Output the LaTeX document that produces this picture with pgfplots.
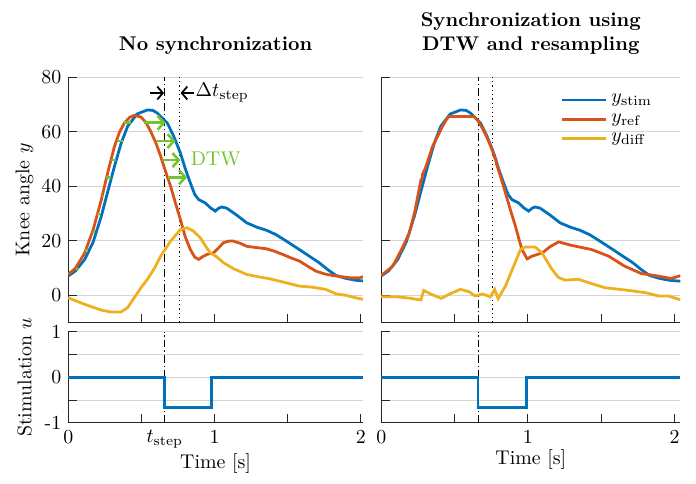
\documentclass[border=0pt]{standalone}
\usepackage{pgfplots}
\pgfplotsset{compat=1.18}
\usetikzlibrary{arrows.meta}

\definecolor{mblue}{rgb}{0,0.447,0.741}
\definecolor{morange}{rgb}{0.85,0.325,0.098}
\definecolor{myellow}{rgb}{0.929,0.694,0.125}
\definecolor{dtwgreen}{rgb}{0.45,0.77,0.18}

\pgfplotsset{
  base/.style={
    scale only axis,
    axis x line*=bottom, axis y line*=left,
    tick align=inside, major tick length=4.5pt,
    ymajorgrids, grid style={black!17, line width=0.5pt},
    axis line style={black!85, line width=0.5pt},
    tick style={black!85, line width=0.5pt},
    xmin=0, no markers,
    every axis plot/.append style={line width=1.4pt},
    xtick={0,0.5,1,1.5,2},
    ylabel style={at={(axis description cs:0,0.5)}, anchor=center, yshift=22pt},
    xlabel style={yshift=4pt},
    title style={at={(0.5,1)}, anchor=south, yshift=2pt, font=\bfseries, align=center},
  },
  top/.style={base, height=123.5pt, ymin=-10, ymax=80, ytick={0,20,40,60,80}, xticklabels={}},
  bot/.style={base, height=46pt, ymin=-1, ymax=1, ytick={-1,-0.5,0,0.5,1},
    xticklabels={0,,1,,2}, xlabel={Time [s]}},
  dashdot/.style={black, line width=0.5pt, dash pattern=on 4pt off 1.5pt on 0.6pt off 1.5pt, forget plot},
  dotline/.style={black, line width=0.5pt, dash pattern=on 0.6pt off 1.6pt, forget plot},
  dtw/.style={dtwgreen, line width=1.3pt, forget plot},
  dtwarrow/.style={dtw, -{Straight Barb[length=3.2pt,width=7pt]}},
  blackarrow/.style={black, line width=0.9pt, forget plot, -{Straight Barb[length=2.8pt,width=6.5pt]}},
}

% y_stim (same in both panels)
\pgfplotstableread{
t y
0 7.1
0.05 9.0
0.113 13.2
0.17 19.5
0.226 29
0.27 38
0.316 47.3
0.36 55.5
0.406 62
0.47 66.5
0.542 68
0.58 67.8
0.61 66.8
0.677 63.2
0.72 58.5
0.767 52.2
0.80 46.5
0.835 41.2
0.865 37
0.892 35.1
0.937 33.9
0.97 32.2
1.005 30.9
1.03 32
1.05 32.4
1.083 32
1.15 29.5
1.22 26.6
1.29 25
1.354 23.9
1.42 22.3
1.5 19.6
1.58 16.8
1.65 14.3
1.715 12
1.77 9.6
1.83 7.3
1.9 6.2
1.97 5.5
2.04 5.2
}\stim

\pgfplotstableread{
t y
0 7.7
0.05 10
0.113 15.6
0.17 24
0.226 35
0.27 45
0.316 54.6
0.35 59.8
0.384 63.2
0.42 65.3
0.451 66
0.497 65.4
0.53 63.5
0.564 60.1
0.6 55.8
0.632 51
0.665 45.5
0.7 40
0.735 33.5
0.767 27.8
0.8 21.5
0.835 16.8
0.865 14
0.892 13.2
0.92 14.2
0.948 15
0.993 15.6
1.03 17.5
1.06 19.3
1.1 19.9
1.129 19.9
1.18 19
1.22 18
1.29 17.5
1.354 17.1
1.41 16.2
1.467 15
1.52 13.8
1.58 12.6
1.64 10.6
1.693 8.9
1.75 7.9
1.806 7.3
1.86 6.9
1.919 6.5
1.99 6.4
2.04 7.2
}\refL

\pgfplotstableread{
t y
0 -0.9
0.113 -3.3
0.226 -5.4
0.293 -6.1
0.361 -6.1
0.406 -4.5
0.451 -0.9
0.5 3
0.542 5.9
0.59 10
0.632 14.4
0.7 19.9
0.767 24.1
0.813 24.8
0.858 23.5
0.903 21.1
0.94 18
0.971 15.6
1.016 14.1
1.061 12
1.129 9.8
1.219 7.7
1.31 6.7
1.377 6.1
1.467 4.9
1.58 3.4
1.67 3
1.76 2.2
1.83 0.6
1.9 0
1.99 -1.2
2.04 -1.6
}\diffL

\pgfplotstableread{
t y
0 7.3
0.079 10.7
0.14 17
0.192 22.9
0.23 31
0.271 42.4
0.278 42.6
0.282 44.5
0.30 46.5
0.35 54.6
0.418 62
0.445 64.5
0.463 65.6
0.633 65.6
0.66 64
0.69 61.3
0.725 57.5
0.756 53.4
0.774 50.4
0.781 50.2
0.785 48.3
0.79 47.6
0.82 42.5
0.847 37.6
0.88 31.5
0.915 25.4
0.94 20.5
0.96 16.8
0.995 13.4
1.03 14.4
1.1 15.6
1.15 17.8
1.21 19.6
1.3 18.3
1.435 16.8
1.55 14.4
1.66 10.7
1.774 8
1.887 7.1
1.977 6.2
2.04 7.2
}\refR

\pgfplotstableread{
t y
0 -0.5
0.1 -0.5
0.19 -1
0.27 -1.7
0.29 1.8
0.34 0.4
0.41 -1.1
0.47 0.6
0.54 2.2
0.6 1.3
0.64 -0.2
0.69 0.5
0.745 -0.5
0.774 2.2
0.797 -1.2
0.847 3.4
0.903 10.7
0.95 16.8
0.983 17.7
1.05 17.7
1.096 15.6
1.165 9.5
1.21 6.5
1.255 5.6
1.345 5.9
1.435 4.3
1.527 2.8
1.66 2
1.8 1
1.89 -0.2
1.957 -0.2
2.04 -1.6
}\diffR

\begin{document}
\begin{tikzpicture}

% top left
\begin{axis}[top, name=tl, at={(0,0)}, anchor=north west, width=148.3pt, xmax=2.015,
  title={No synchronization}, ylabel={Knee angle $y$}]
\addplot[dashdot] coordinates {(0.66,-10)(0.66,80)};
\addplot[dotline] coordinates {(0.76,-10)(0.76,80)};
\addplot[color=mblue] table {\stim};
\addplot[color=morange] table {\refL};
\addplot[color=myellow] table {\diffL};
% DTW warping arrows
\addplot[dtw] coordinates {(0.05,9.7)(0.075,9.7)};
\addplot[dtw] coordinates {(0.115,16.5)(0.135,16.5)};
\addplot[dtw] coordinates {(0.16,23.2)(0.18,23.2)};
\addplot[dtw] coordinates {(0.198,29.8)(0.215,29.8)};
\addplot[dtw] coordinates {(0.228,36.5)(0.246,36.5)};
\addplot[dtw] coordinates {(0.26,43.3)(0.29,43.3)};
\addplot[dtw] coordinates {(0.293,49.6)(0.327,49.6)};
\addplot[dtw] coordinates {(0.334,56.6)(0.373,56.6)};
\addplot[dtw] coordinates {(0.384,63.3)(0.43,63.3)};
\addplot[dtwarrow] coordinates {(0.519,63.3)(0.666,63.3)};
\addplot[dtwarrow] coordinates {(0.6,56.6)(0.734,56.6)};
\addplot[dtwarrow] coordinates {(0.644,49.6)(0.768,49.6)};
\addplot[dtwarrow] coordinates {(0.682,43.3)(0.813,43.3)};
\node[anchor=west, inner sep=0pt, text=dtwgreen] at (axis cs:0.835,50) {DTW};
% Delta t_step
\addplot[blackarrow] coordinates {(0.56,74.2)(0.655,74.2)};
\addplot[blackarrow] coordinates {(0.862,74.2)(0.768,74.2)};
\node[anchor=west, inner sep=0pt] at (axis cs:0.868,74.2) {$\Delta t_{\mathrm{step}}$};
\end{axis}

% bottom left
\begin{axis}[bot, at={(0,-128pt)}, anchor=north west, width=148.3pt, xmax=2.015,
  yticklabels={-1,,0,,1}, ylabel={Stimulation $u$},
  extra x ticks={0.66}, extra x tick labels={$t_{\mathrm{step}}$},
  extra x tick style={major tick length=0pt, grid=none}]
\addplot[dashdot] coordinates {(0.66,-1)(0.66,1)};
\addplot[color=mblue] coordinates {(0,0)(0.66,0)(0.66,-0.66)(0.98,-0.66)(0.98,0)(2.04,0)};
\end{axis}

% top right
\begin{axis}[top, at={(157.5pt,0)}, anchor=north west, width=150.5pt, xmax=2.04,
  yticklabels={},
  title={Synchronization using\\DTW and resampling},
  legend style={at={(0.94,0.965)}, anchor=north east, draw=none, fill=none},
  legend cell align=left,
  legend image code/.code={\draw[#1] (0pt,0pt) -- (22pt,0pt);}]
\addplot[dashdot] coordinates {(0.66,-10)(0.66,80)};
\addplot[dotline] coordinates {(0.76,-10)(0.76,80)};
\addplot[color=mblue] table {\stim};
\addlegendentry{$y_{\mathrm{stim}}$}
\addplot[color=morange] table {\refR};
\addlegendentry{$y_{\mathrm{ref}}$}
\addplot[color=myellow] table {\diffR};
\addlegendentry{$y_{\mathrm{diff}}$}
\end{axis}

% bottom right
\begin{axis}[bot, at={(157.5pt,-128pt)}, anchor=north west, width=150.5pt, xmax=2.04,
  yticklabels={}]
\addplot[dashdot] coordinates {(0.66,-1)(0.66,1)};
\addplot[color=mblue] coordinates {(0,0)(0.66,0)(0.66,-0.66)(0.99,-0.66)(0.99,0)(2.04,0)};
\end{axis}

\path ([xshift=-4.5pt,yshift=-1.5pt]current bounding box.south west)
  rectangle ([xshift=5pt,yshift=3pt]current bounding box.north east);
\end{tikzpicture}
\end{document}
